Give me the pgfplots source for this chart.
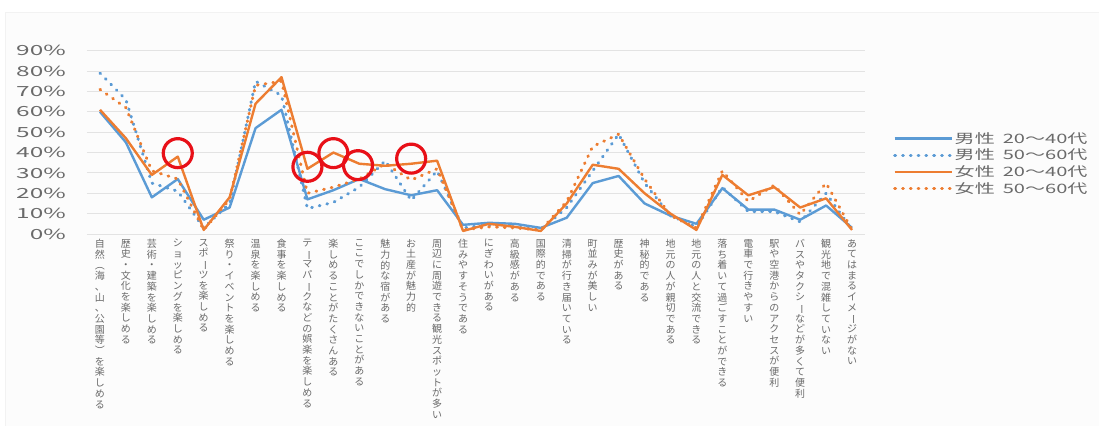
\documentclass[border=0pt]{standalone}
\usepackage{pgfplots}
\usepackage{pgfplotstable}
\pgfplotsset{compat=1.18}
\usepackage{fontspec}
\newfontfamily\cjk{Noto Sans CJK JP}
\newfontfamily\wide[FakeStretch=1.55]{Noto Sans CJK JP}
\newfontfamily\widey[FakeStretch=1.75]{Noto Sans CJK JP}
\definecolor{sblue}{HTML}{5B9BD5}
\definecolor{sorange}{HTML}{ED7D31}
\definecolor{cred}{RGB}{232,16,24}
\definecolor{gridgray}{HTML}{E3E3E3}
\definecolor{txtgray}{HTML}{6A6A6A}
\makeatletter
\newcommand\vt[1]{\vtop{\baselineskip=10.7bp\lineskiplimit=-\maxdimen\lineskip=0pt\vt@loop#1\relax}}
\def\vt@loop#1{\ifx\relax#1\else\vt@char{#1}\expandafter\vt@loop\fi}
\def\vt@char#1{\hbox to 10.7bp{\hss\vt@glyph{#1}\hss}}
\def\vt@glyph#1{\ifx ー#1\rotatebox[origin=c]{-90}{ー}\else\ifx （#1\rotatebox[origin=c]{-90}{（}\else\ifx ）#1\rotatebox[origin=c]{-90}{）}\else #1\fi\fi\fi}
\makeatother
\pgfplotstableread{
x  bs   bd   os   od
1  60   79   61   71
2  45   66   47   62
3  18   25   29   31
4  27   21   38   27
5  7    3    2    2
6  13   15   18   17
7  52   75   64   73
8  61   68   77   75
9  17   12.5 32   20
10 21.5 15.5 40   23
11 27   23   34.5 27
12 22   36   33.5 34.5
13 19   16.5 34.5 26.5
14 21.5 31   36   32
15 4.5  3    1.5  2
16 5.5  4.5  5    3.5
17 5    3.5  3.5  3
18 3    2    1.5  2
19 8    13   15   16
20 25   31   34   43
21 28.5 49   32   49
22 15   25   20   27
23 9    9    10   9
24 5    3.5  2    3
25 22.5 23   29   31
26 12   11   19   16
27 12   11   23   24
28 7    6    13   9.5
29 14   20   17.5 25
30 3    2    2    2
}\datatab
\pgfplotstableread{
x  y
4  39.7
9  33
10 39.7
10.95 33.8
13 37
}\circtab
\begin{document}
\begin{tikzpicture}
\path[use as bounding box] (-87bp,-192bp) rectangle (1012bp,234bp);
\filldraw[fill=black!1.2, draw=black!5] (-82bp,-193bp) rectangle (1013bp,222bp);
\begin{axis}[
  at={(0,0)}, anchor=south west,
  width=778bp, height=183.3bp, scale only axis,
  xmin=0.5, xmax=30.5, ymin=0, ymax=90,
  clip=false,
  axis line style={draw=none},
  major tick length=0pt,
  ymajorgrids, grid style={gridgray, line width=0.9bp},
  ytick={0,10,...,90},
  yticklabels={0\%,10\%,20\%,30\%,40\%,50\%,60\%,70\%,80\%,90\%},
  yticklabel style={anchor=east, inner sep=0pt, xshift=-21bp, font=\widey\fontsize{14}{16}\selectfont, text=txtgray},
  xtick={1,...,30},
  xticklabels={
    {\vt{自然（海、山、公園等）を楽しめる}},
    {\vt{歴史・文化を楽しめる}},
    {\vt{芸術・建築を楽しめる}},
    {\vt{ショッピングを楽しめる}},
    {\vt{スポーツを楽しめる}},
    {\vt{祭り・イベントを楽しめる}},
    {\vt{温泉を楽しめる}},
    {\vt{食事を楽しめる}},
    {\vt{テーマパークなどの娯楽を楽しめる}},
    {\vt{楽しめることがたくさんある}},
    {\vt{ここでしかできないことがある}},
    {\vt{魅力的な宿がある}},
    {\vt{お土産が魅力的}},
    {\vt{周辺に周遊できる観光スポットが多い}},
    {\vt{住みやすそうである}},
    {\vt{にぎわいがある}},
    {\vt{高級感がある}},
    {\vt{国際的である}},
    {\vt{清掃が行き届いている}},
    {\vt{町並みが美しい}},
    {\vt{歴史がある}},
    {\vt{神秘的である}},
    {\vt{地元の人が親切である}},
    {\vt{地元の人と交流できる}},
    {\vt{落ち着いて過ごすことができる}},
    {\vt{電車で行きやすい}},
    {\vt{駅や空港からのアクセスが便利}},
    {\vt{バスやタクシーなどが多くて便利}},
    {\vt{観光地で混雑していない}},
    {\vt{あてはまるイメージがない}}},
  xticklabel style={anchor=north, inner sep=0pt, yshift=-5bp, font=\cjk\fontsize{10}{10.7}\selectfont, text=txtgray},
  legend image code/.code={\draw[#1] (0bp,0bp) -- (57bp,0bp);},
  legend style={at={(1.036,0.565)}, anchor=north west, draw=none, fill=none, inner sep=0pt,
    row sep=1.5bp, font=\wide\fontsize{13}{14}\selectfont, text=txtgray,
    nodes={inner sep=1.5bp, anchor=west}},
  legend cell align=left,
  mysolid/.style={line width=2.4bp, line join=round},
  mydots/.style={line width=3bp, line cap=round, dash pattern=on 0.8bp off 7bp},
]
\addplot[sblue, mysolid] table[x=x, y=bs] {\datatab};
\addlegendentry{男性\hspace{8bp}20～40代}
\addplot[sblue, mydots] table[x=x, y=bd] {\datatab};
\addlegendentry{男性\hspace{8bp}50～60代}
\addplot[sorange, mysolid] table[x=x, y=os] {\datatab};
\addlegendentry{女性\hspace{8bp}20～40代}
\addplot[sorange, mydots] table[x=x, y=od] {\datatab};
\addlegendentry{女性\hspace{8bp}50～60代}
\addplot[only marks, mark=o, mark size=14.5bp, cred, mark options={line width=3.2bp}, forget plot] table[x=x, y=y] {\circtab};
\end{axis}
\end{tikzpicture}
\end{document}
